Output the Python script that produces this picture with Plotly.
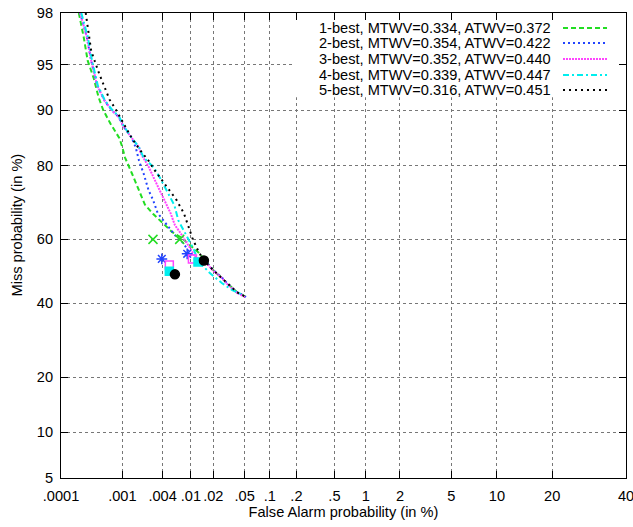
from statistics import NormalDist
import plotly.graph_objects as go

# DET curves, values in percent
fa_1best = [0.0002, 0.00024, 0.00028, 0.00035, 0.00042, 0.0005, 0.00065, 0.0009, 0.001, 0.0011,
            0.0014, 0.0018, 0.0022, 0.0029, 0.004, 0.0055, 0.0075, 0.0105, 0.013, 0.02, 0.03, 0.04, 0.052]
miss_1best = [98, 96.9, 95.3, 93.8, 91.7, 90, 88, 85.5, 83.8, 81.7,
              78.2, 74, 70.2, 67.6, 65, 62.2, 60.4, 57.7, 55.7, 50.3, 46.2, 43.4, 41.9]

fa_2best = [0.00021, 0.00027, 0.00032, 0.0004, 0.00053, 0.00068, 0.00088, 0.00103, 0.0014, 0.0016,
            0.0018, 0.0021, 0.0025, 0.0029, 0.0034, 0.0048, 0.006, 0.0078, 0.0095, 0.011,
            0.0155, 0.02, 0.025, 0.03, 0.04, 0.052]
miss_2best = [98, 96.9, 95.3, 93, 91.2, 90, 89, 87.6, 85.5, 83.8,
              81, 78.2, 74, 71.5, 67.8, 63.7, 61.3, 58.9, 56, 54.6,
              53.3, 50.3, 48.4, 46.2, 43.4, 41.9]

fa_3best = [0.00021, 0.00027, 0.00032, 0.0004, 0.00053, 0.00068, 0.00088, 0.00103, 0.0014, 0.0018,
            0.0019, 0.0025, 0.003, 0.0035, 0.0042, 0.0052, 0.006, 0.0072, 0.0095, 0.0115,
            0.0155, 0.02, 0.025, 0.03, 0.04, 0.051]
miss_3best = [98, 96.9, 95.3, 93, 91.2, 90, 89, 87.6, 85.5, 83.8,
              82.6, 79.7, 77, 74.6, 72, 67.8, 64.3, 61.9, 57.7, 54.5,
              53.1, 50.1, 48.2, 46, 43.2, 41.8]

fa_4best = [0.00022, 0.00028, 0.00033, 0.00041, 0.00054, 0.0007, 0.0009, 0.00105, 0.0014, 0.0018,
            0.0021, 0.003, 0.0037, 0.0047, 0.0059, 0.0067, 0.0083, 0.0097, 0.011, 0.0125,
            0.018, 0.026, 0.035, 0.048]
miss_4best = [98, 96.9, 95.3, 93, 91.2, 90, 89, 87.6, 85.5, 83.8,
              81.7, 79.5, 77, 73.4, 70, 65.7, 61.9, 59.2, 56.8, 53.3,
              49.4, 46.2, 44, 42.5]

fa_5best = [0.00026, 0.00032, 0.00043, 0.00054, 0.00063, 0.0008, 0.0011, 0.0014, 0.0018, 0.0025,
            0.0031, 0.004, 0.005, 0.0063, 0.008, 0.0093, 0.0105, 0.012, 0.0145, 0.02,
            0.03, 0.04, 0.054]
miss_5best = [98, 96, 94.2, 92.7, 91.4, 90, 87.6, 85.5, 83.5, 81,
              78.8, 76.4, 74, 71.5, 67.8, 63.7, 60.4, 57.4, 53.8, 50.3,
              46.2, 43.4, 41.6]

# operating points (two per system)
pt_fa = [[0.0029, 0.007], [0.0039, 0.0089], [0.005, 0.0105], [0.005, 0.0125], [0.006, 0.015]]
pt_miss = [[60, 60], [53.9, 55.5], [52, 53.9], [50, 52.9], [49, 53.4]]

names = ['1-best, MTWV=0.334, ATWV=0.372',
         '2-best, MTWV=0.354, ATWV=0.422',
         '3-best, MTWV=0.352, ATWV=0.440',
         '4-best, MTWV=0.339, ATWV=0.447',
         '5-best, MTWV=0.316, ATWV=0.451']

x_ticks = [0.0001, 0.001, 0.004, 0.01, 0.02, 0.05, 0.1, 0.2, 0.5, 1, 2, 5, 10, 20, 40]
x_ticktext = ['.0001', '.001', '.004', '.01', '.02', '.05', '.1', '.2', '.5', '1', '2', '5', '10', '20', '40']
y_ticks = [5, 10, 20, 40, 60, 80, 90, 95, 98]
y_ticktext = ['5', '10', '20', '40', '60', '80', '90', '95', '98']

nd = NormalDist()


def probit(vals):
    return [nd.inv_cdf(v / 100.0) for v in vals]


curves = [(fa_1best, miss_1best), (fa_2best, miss_2best), (fa_3best, miss_3best),
          (fa_4best, miss_4best), (fa_5best, miss_5best)]
colors = ['#22dd22', '#2244ff', '#ff44ff', '#00eeee', '#000000']
dashes = ['5px,3px', '2px,3px', '2px,1px', '6px,3px,2px,3px', '2px,4px']
symbols = ['x-thin-open', 'asterisk-open', 'square-open', 'square', 'circle']
msizes = [9, 9, 8, 8, 9]

fig = go.Figure()
for i, (fa, miss) in enumerate(curves):
    fig.add_trace(go.Scatter(x=probit(fa), y=probit(miss), mode='lines', name=names[i],
                             line=dict(color=colors[i], width=2, dash=dashes[i]),
                             showlegend=False))
for i in range(5):
    fig.add_trace(go.Scatter(x=probit(pt_fa[i]), y=probit(pt_miss[i]), mode='markers',
                             marker=dict(symbol=symbols[i], size=msizes[i], color=colors[i],
                                         line=dict(color=colors[i], width=1.5)),
                             showlegend=False))

# key: white box over the grid, right-aligned text, sample line to the right
fig.add_shape(type='rect', xref='paper', yref='paper', x0=0.4106, x1=0.9858, y0=0.819, y1=0.985,
              fillcolor='white', line=dict(width=0), layer='above')
row_y = [0.9677, 0.9355, 0.9011, 0.8667, 0.8344]
for i in range(5):
    fig.add_annotation(x=0.8708, y=row_y[i], xref='paper', yref='paper', text=names[i],
                       showarrow=False, xanchor='right', yanchor='middle',
                       font=dict(size=14.6, color='black'))
    fig.add_shape(type='line', xref='paper', yref='paper', x0=0.8885, x1=0.9664,
                  y0=row_y[i], y1=row_y[i], layer='above',
                  line=dict(color=colors[i], width=2, dash=dashes[i]))

# y label, placed like gnuplot's (a bit above the plot centre)
fig.add_annotation(x=-0.078, y=0.545, xref='paper', yref='paper', text='Miss probability (in %)',
                   textangle=-90, showarrow=False, xanchor='center', yanchor='middle',
                   font=dict(size=14.6, color='black'))

axis_common = dict(showline=True, linecolor='black', linewidth=1, mirror='allticks',
                   ticks='inside', ticklen=7, tickcolor='black', tickwidth=1,
                   showgrid=True, gridcolor='#777777', griddash='dot', gridwidth=1,
                   zeroline=False, automargin=False, tickangle=0, ticklabeloverflow='allow',
                   tickfont=dict(size=14.6, color='black'))

fig.update_xaxes(range=probit([0.0001, 40]), tickvals=probit(x_ticks), ticktext=x_ticktext,
                 title=dict(text='False Alarm probability (in %)', font=dict(size=14.6), standoff=4),
                 ticklabelstandoff=4, **axis_common)
fig.update_yaxes(range=probit([5, 98]), tickvals=probit(y_ticks), ticktext=y_ticktext,
                 ticklabelstandoff=4, **axis_common)

fig.update_layout(width=633, height=527, plot_bgcolor='white', paper_bgcolor='white',
                  margin=dict(l=61, r=7, t=13, b=49),
                  font=dict(family='Liberation Sans, Arial, sans-serif', size=14.6, color='black'))

fig.write_html('out.html', config={'displayModeBar': False},
               post_script="document.body.style.margin='0px';")
